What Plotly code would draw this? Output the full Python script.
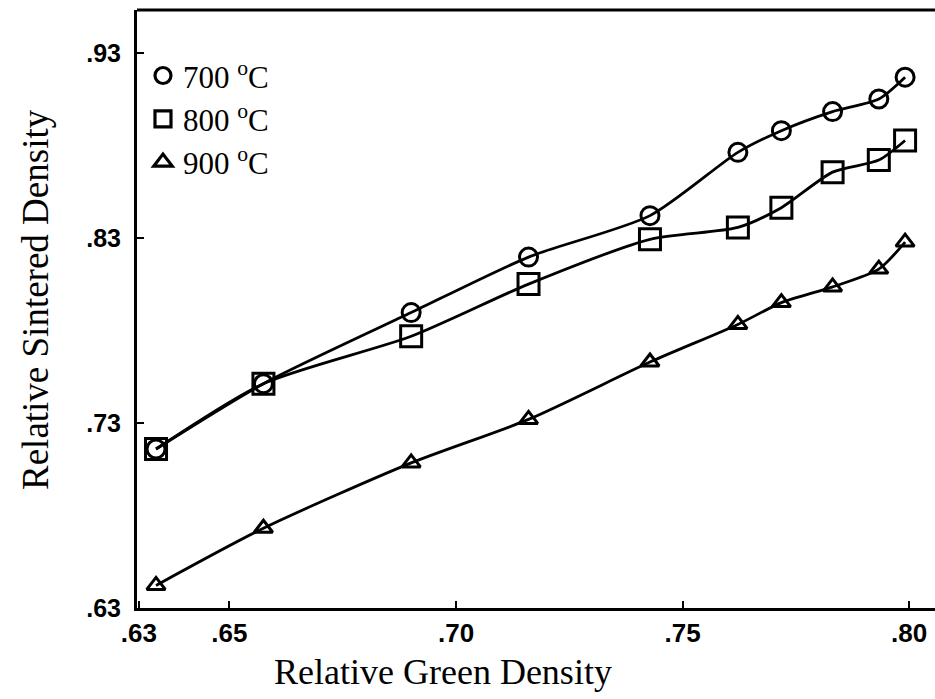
import plotly.graph_objects as go

# ---- data ----
green_density = [0.6338, 0.6575, 0.6901, 0.7160, 0.7428, 0.7622, 0.7718, 0.7831, 0.7933, 0.7991]
sintered_700 = [0.7159, 0.7512, 0.7896, 0.8196, 0.8420, 0.8762, 0.8879, 0.8982, 0.9050, 0.9168]
sintered_800 = [0.7159, 0.7512, 0.7768, 0.8050, 0.8292, 0.8356, 0.8463, 0.8655, 0.8720, 0.8826]
sintered_900 = [0.6422, 0.6731, 0.7084, 0.7319, 0.7629, 0.7832, 0.7950, 0.8035, 0.8131, 0.8277]
series_names = ["700 <sup>o</sup>C", "800 <sup>o</sup>C", "900 <sup>o</sup>C"]
x_tick_vals = [0.63, 0.65, 0.70, 0.75, 0.80]
x_tick_text = [".63", ".65", ".70", ".75", ".80"]
y_tick_vals = [0.63, 0.73, 0.83, 0.93]
y_tick_text = [".63", ".73", ".83", ".93"]
x_title = "Relative Green Density"
y_title = "Relative Sintered Density"

series = [
    (sintered_700, "circle-open", 18),
    (sintered_800, "square-open", 21),
    (sintered_900, "triangle-up-open", 16),
]

SERIF = "Liberation Serif, Times New Roman, serif"
SANS = "Liberation Sans, Arial, sans-serif"

fig = go.Figure()
for (vals, sym, size), name in zip(series, series_names):
    fig.add_trace(go.Scatter(
        x=green_density, y=vals, mode="lines+markers",
        line=dict(color="black", width=2.8, shape="spline", smoothing=0.7),
        marker=dict(symbol=sym, size=size, color="black", line=dict(color="black", width=3)),
        showlegend=False, name=name,
    ))
# legend entries (marker only, as in the reference)
for (vals, sym, size), name in zip(series, series_names):
    fig.add_trace(go.Scatter(
        x=[None], y=[None], mode="markers", name=name,
        marker=dict(symbol=sym, size=size, color="black", line=dict(color="black", width=3.2)),
        showlegend=True,
    ))

fig.update_layout(
    width=935, height=699,
    margin=dict(l=137, r=0, t=10, b=91),
    paper_bgcolor="white", plot_bgcolor="white",
    showlegend=True,
    legend=dict(
        x=0.0075, y=0.935, xanchor="left", yanchor="top",
        font=dict(family=SERIF, size=31, color="black"),
        bgcolor="rgba(0,0,0,0)", itemwidth=30,
    ),
    xaxis=dict(
        range=[0.6296, 0.8057], tickvals=x_tick_vals, ticktext=x_tick_text,
        ticks="inside", ticklen=7, tickwidth=2, tickcolor="black",
        showline=True, linecolor="black", linewidth=3,
        showgrid=False, zeroline=False,
        tickfont=dict(family=SANS, size=26, color="black", weight="bold"),
    ),
    yaxis=dict(
        range=[0.63, 0.9531], tickvals=y_tick_vals, ticktext=y_tick_text,
        ticks="inside", ticklen=7, tickwidth=2, tickcolor="black",
        showline=True, linecolor="black", linewidth=3,
        showgrid=False, zeroline=False,
        tickfont=dict(family=SANS, size=25, color="black", weight="bold"),
        ticklabelstandoff=8,
    ),
    shapes=[dict(type="line", xref="paper", yref="paper", x0=0, x1=1, y0=1, y1=1,
                 line=dict(color="black", width=3))],
    annotations=[
        dict(text=x_title, xref="paper", yref="paper", x=(443 - 137) / 798, y=-0.107,
             xanchor="center", yanchor="middle", showarrow=False,
             font=dict(family=SERIF, size=36, color="black")),
        dict(text=y_title, xref="paper", yref="paper", x=(35 - 137) / 798, y=1 - (300 - 10) / 598,
             xanchor="center", yanchor="middle", showarrow=False, textangle=-90,
             font=dict(family=SERIF, size=37, color="black")),
    ],
)

fig.write_html("out.html")
